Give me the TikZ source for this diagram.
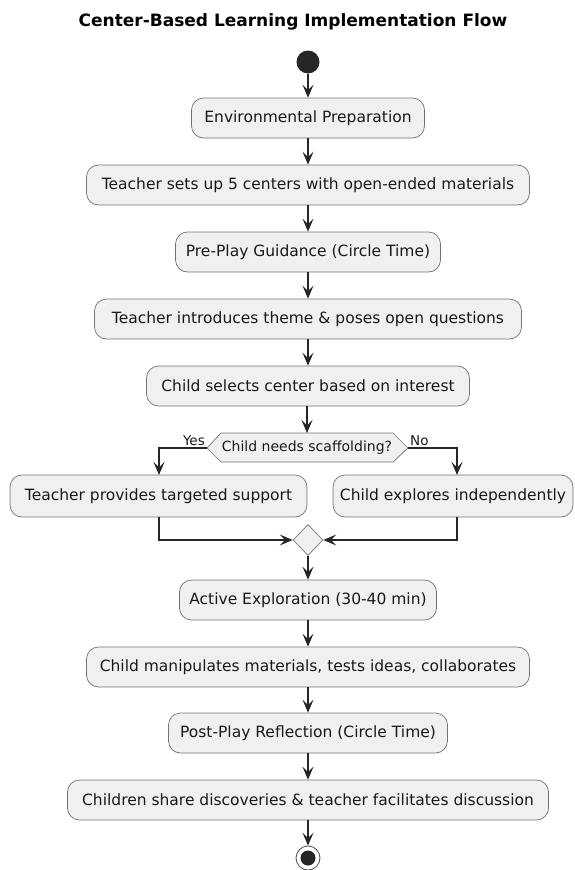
\documentclass[tikz,border=0pt]{standalone}
\usepackage{fontspec}
\setmainfont{DejaVu Sans}
\usetikzlibrary{arrows.meta,shapes.geometric}
\begin{document}
\begin{tikzpicture}[x=1pt,y=-1pt,
  act/.style={draw=black!55, fill=black!6, line width=0.7pt, rounded corners=12pt, minimum height=40pt, inner xsep=6pt, font=\fontsize{15.5}{18}\selectfont, text=black!90},
  flow/.style={draw=black!85, line width=1.1pt, -{Stealth[length=13pt,width=11pt,inset=5.5pt]}},
  lbl/.style={font=\fontsize{13.5}{15}\selectfont, text=black!90, inner sep=0pt}
]
\useasboundingbox (0,0) rectangle (574,870);
\node[font=\bfseries\fontsize{17}{19}\selectfont] (title) at (293,22) {Center-Based Learning Implementation Flow};
\node[circle, fill=black!85, minimum size=23pt, inner sep=0pt] (start) at (308,62) {};
\node[act, minimum width=233pt] (b1) at (308,118) {Environmental Preparation};
\node[act, minimum width=443pt] (b2) at (308,185) {Teacher sets up 5 centers with open-ended materials};
\node[act, minimum width=265pt] (b3) at (308,252) {Pre-Play Guidance (Circle Time)};
\node[act, minimum width=427pt] (b4) at (308,319) {Teacher introduces theme \& poses open questions};
\node[act, minimum width=323pt] (b5) at (308,386) {Child selects center based on interest};
\draw[draw=black!55, fill=black!6, line width=0.7pt]
  (207,448) -- (221,433) -- (393,433) -- (408,448) -- (393,462) -- (221,462) -- cycle;
\node[lbl, font=\fontsize{14}{16}\selectfont, minimum width=172pt, minimum height=29pt] (dec) at (307,448) {Child needs scaffolding?};
\coordinate (dw) at (207,448);
\coordinate (de) at (408,448);
\node[act, minimum width=297pt, minimum height=42pt] (yb) at (158.5,496) {Teacher provides targeted support};
\node[act, minimum width=240pt, minimum height=42pt] (nb) at (453,496) {Child explores independently};
\node[lbl, anchor=south east] (yes) at (205,446) {Yes};
\node[lbl, anchor=south west] (no) at (410,446) {No};
\coordinate (ya) at (159,475);
\coordinate (na) at (457,475);
\coordinate (yo) at (159,517);
\coordinate (no2) at (457,517);
\node[diamond, draw=black!55, fill=black!6, line width=0.7pt, minimum width=30pt, minimum height=31pt, inner sep=0pt] (m) at (308,540) {};
\node[act, minimum width=257pt] (b6) at (308,600) {Active Exploration (30-40 min)};
\node[act, minimum width=443pt] (b7) at (308,667) {Child manipulates materials, tests ideas, collaborates};
\node[act, minimum width=279pt] (b8) at (308,733) {Post-Play Reflection (Circle Time)};
\node[act, minimum width=481pt] (b9) at (308,800) {Children share discoveries \& teacher facilitates discussion};
\node[circle, draw=black!70, fill=white, line width=0.8pt, minimum size=24pt, inner sep=0pt] (endc) at (308,858) {};
\node[circle, fill=black!85, minimum size=15pt, inner sep=0pt] at (endc) {};
\draw[flow] (start) -- (b1);
\draw[flow] (b1) -- (b2);
\draw[flow] (b2) -- (b3);
\draw[flow] (b3) -- (b4);
\draw[flow] (b4) -- (b5);
\draw[flow] (b5.south -| dec.north) -- (dec.north |- 0,433);
\draw[flow] (dw) -| (ya);
\draw[flow] (de) -| (na);
\draw[flow] (yo) |- (m.west);
\draw[flow] (no2) |- (m.east);
\draw[flow] (m) -- (b6);
\draw[flow] (b6) -- (b7);
\draw[flow] (b7) -- (b8);
\draw[flow] (b8) -- (b9);
\draw[flow] (b9) -- (endc);
\end{tikzpicture}
\end{document}
